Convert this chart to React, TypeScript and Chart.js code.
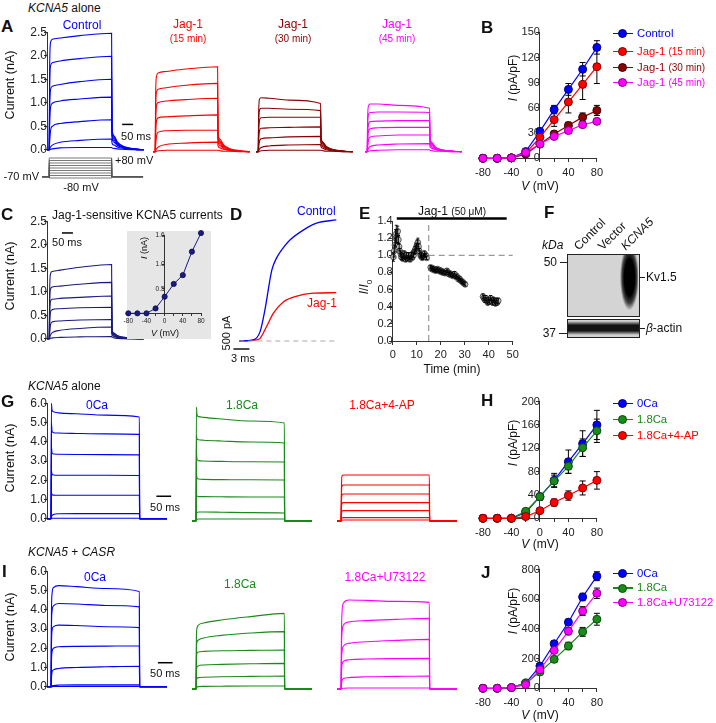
import React, { useEffect, useRef } from 'react';
import { Chart, registerables } from 'chart.js';
Chart.register(...registerables);

const FONT = '"Liberation Sans", Arial, Helvetica, sans-serif';
const BLUE = '#0000ff', RED = '#ff0000', DRED = '#8c0000', MAG = '#ff00ff', NAVY = '#1a1a80', GREEN = '#1a8a1a';

// ---------- Panel A / C current traces (time ms, current nA) ----------
const A_T = [0, 10, 12, 16, 24, 60, 150, 294, 296, 305, 320, 350, 400, 440];
const A_CTRL = [
  [0, 0, 1.7, 2.28, 2.35, 2.38, 2.43, 2.48, 0.45, 0.3, 0.17, 0.07, 0.02, 0],
  [0, 0, 1.3, 1.78, 1.85, 1.89, 1.94, 1.99, 0.4, 0.27, 0.15, 0.06, 0.02, 0],
  [0, 0, 0.85, 1.28, 1.35, 1.39, 1.45, 1.5, 0.35, 0.24, 0.13, 0.05, 0.01, 0],
  [0, 0, 0.5, 0.9, 0.99, 1.04, 1.08, 1.12, 0.3, 0.2, 0.11, 0.05, 0.01, 0],
  [0, 0, 0.15, 0.4, 0.5, 0.56, 0.6, 0.64, 0.24, 0.16, 0.09, 0.04, 0.01, 0],
  [0, 0, 0.02, 0.06, 0.1, 0.16, 0.2, 0.23, 0.14, 0.1, 0.06, 0.03, 0.01, 0],
  [0, 0, 0, 0.01, 0.02, 0.04, 0.05, 0.05, 0.04, 0.03, 0.02, 0.01, 0, 0],
];
const A_J15 = [
  [0, 0, 1.2, 1.58, 1.65, 1.68, 1.73, 1.78, 0.38, 0.26, 0.15, 0.06, 0.02, 0],
  [0, 0, 0.9, 1.25, 1.31, 1.34, 1.39, 1.43, 0.34, 0.23, 0.13, 0.05, 0.01, 0],
  [0, 0, 0.6, 0.97, 1.03, 1.06, 1.09, 1.12, 0.3, 0.2, 0.11, 0.05, 0.01, 0],
  [0, 0, 0.35, 0.65, 0.71, 0.73, 0.75, 0.77, 0.25, 0.17, 0.09, 0.04, 0.01, 0],
  [0, 0, 0.12, 0.33, 0.41, 0.44, 0.45, 0.45, 0.2, 0.13, 0.07, 0.03, 0.01, 0],
  [0, 0, 0.02, 0.06, 0.1, 0.15, 0.18, 0.2, 0.12, 0.08, 0.05, 0.02, 0.01, 0],
  [0, 0, 0, 0.01, 0.02, 0.03, 0.03, 0.03, 0.03, 0.02, 0.01, 0.01, 0, 0],
];
const A_J30 = [
  [0, 0, 0.8, 1.1, 1.13, 1.12, 1.08, 1.01, 0.3, 0.2, 0.11, 0.05, 0.01, 0],
  [0, 0, 0.6, 0.87, 0.91, 0.91, 0.89, 0.86, 0.27, 0.18, 0.1, 0.04, 0.01, 0],
  [0, 0, 0.4, 0.66, 0.71, 0.72, 0.72, 0.72, 0.24, 0.16, 0.09, 0.04, 0.01, 0],
  [0, 0, 0.22, 0.44, 0.49, 0.5, 0.51, 0.52, 0.2, 0.13, 0.07, 0.03, 0.01, 0],
  [0, 0, 0.08, 0.22, 0.27, 0.29, 0.31, 0.32, 0.15, 0.1, 0.06, 0.02, 0.01, 0],
  [0, 0, 0.02, 0.06, 0.09, 0.12, 0.14, 0.15, 0.1, 0.07, 0.04, 0.02, 0, 0],
  [0, 0, 0, 0.01, 0.02, 0.03, 0.03, 0.03, 0.03, 0.02, 0.01, 0.01, 0, 0],
];
const A_J45 = [
  [0, 0, 0.7, 0.96, 1.0, 1.0, 0.97, 0.91, 0.28, 0.19, 0.1, 0.04, 0.01, 0],
  [0, 0, 0.55, 0.78, 0.82, 0.83, 0.83, 0.82, 0.25, 0.17, 0.09, 0.04, 0.01, 0],
  [0, 0, 0.35, 0.58, 0.63, 0.64, 0.65, 0.65, 0.22, 0.15, 0.08, 0.03, 0.01, 0],
  [0, 0, 0.2, 0.43, 0.48, 0.5, 0.51, 0.51, 0.19, 0.13, 0.07, 0.03, 0.01, 0],
  [0, 0, 0.08, 0.25, 0.31, 0.33, 0.35, 0.35, 0.15, 0.1, 0.05, 0.02, 0.01, 0],
  [0, 0, 0.02, 0.07, 0.11, 0.14, 0.16, 0.17, 0.1, 0.07, 0.04, 0.02, 0, 0],
  [0, 0, 0, 0.01, 0.02, 0.03, 0.04, 0.04, 0.03, 0.02, 0.01, 0.01, 0, 0],
];
const C_SENS = [
  [0, 0, 1.0, 1.38, 1.43, 1.46, 1.52, 1.58, 0.2, 0.12, 0.07, 0.03, 0.01, 0],
  [0, 0, 0.75, 1.06, 1.1, 1.12, 1.16, 1.2, 0.17, 0.1, 0.06, 0.03, 0.01, 0],
  [0, 0, 0.5, 0.8, 0.84, 0.86, 0.88, 0.91, 0.14, 0.09, 0.05, 0.02, 0.01, 0],
  [0, 0, 0.3, 0.57, 0.62, 0.64, 0.66, 0.67, 0.12, 0.08, 0.04, 0.02, 0, 0],
  [0, 0, 0.1, 0.3, 0.36, 0.38, 0.4, 0.41, 0.1, 0.06, 0.03, 0.01, 0, 0],
  [0, 0, 0.02, 0.08, 0.13, 0.18, 0.22, 0.25, 0.07, 0.05, 0.03, 0.01, 0, 0],
  [0, 0, 0, 0.01, 0.02, 0.03, 0.04, 0.05, 0.03, 0.02, 0.01, 0, 0, 0],
];
// voltage protocol (mV)
const PROTO_STEPS = [-80, -60, -40, -20, 0, 20, 40, 60, 80];
const PROTO_HOLD = -70;
const PROTO_T = [-22, 10, 294, 437];

// ---------- Panel C inset (I-V of Jag-1-sensitive current) ----------
const IV_V = [-80, -60, -40, -20, 0, 20, 40, 60, 80];
const INSET_I = [0, 0, 0, 0.1, 0.34, 0.6, 0.78, 1.26, 1.64];

// ---------- Panel B ----------
const B_CTRL = [0, 0, 0.5, 8, 32, 58, 82, 106, 132];
const B_CTRL_E = [0, 0, 0, 2, 4, 5, 7, 8, 8];
const B_J15 = [0, 0, 0.5, 6, 25, 46, 67, 88, 109];
const B_J15_E = [0, 0, 0, 2, 4, 8, 13, 18, 20];
const B_J30 = [0, 0, 0.5, 5, 17, 29, 39, 49, 57];
const B_J30_E = [0, 0, 0, 1, 2, 3, 4, 5, 6];
const B_J45 = [0, 0, 0.5, 7, 17, 26, 33, 40, 44];
const B_J45_E = [0, 0, 0, 1, 2, 2, 3, 3, 3];

// ---------- Panel D (time ms, current pA) ----------
const D_CTRL_T = [0, 2.6, 3.9, 4.8, 6.1, 7.0, 8.2, 9.5, 12.0, 14.5, 18.2];
const D_CTRL_I = [0, 40, 360, 1190, 2730, 3200, 3580, 3890, 4270, 4540, 4660];
const D_JAG_T = [0, 3.3, 3.9, 5.1, 6.4, 8.3, 10.8, 13.9, 18.2];
const D_JAG_I = [0, 40, 100, 550, 1070, 1510, 1730, 1840, 1860];

// ---------- Panel E: [time (min), I/I0, error] ----------
const E_DATA: [number, number, number][] = [
  [0.3, 0.98, 0.05], [0.6, 1.05, 0.07], [0.9, 1.12, 0.08], [1.2, 1.2, 0.1], [1.5, 1.25, 0.1], [1.8, 1.22, 0.08],
  [2.1, 1.28, 0.06], [2.4, 1.18, 0.05], [2.7, 1.1, 0.04], [3.0, 1.05, 0.03], [3.3, 1.02, 0.03], [3.6, 0.98, 0.03],
  [3.9, 1.0, 0.03], [4.2, 0.96, 0.02], [4.5, 0.99, 0.03], [4.8, 1.02, 0.03], [5.1, 0.97, 0.02], [5.4, 0.95, 0.02],
  [5.7, 1.0, 0.03], [6.0, 0.98, 0.02], [6.3, 0.96, 0.02], [6.6, 1.0, 0.03], [6.9, 0.97, 0.02], [7.2, 0.95, 0.02],
  [7.5, 0.98, 0.02], [7.8, 1.0, 0.03], [8.1, 0.97, 0.02], [8.4, 1.02, 0.03], [8.7, 1.0, 0.03], [9.0, 1.04, 0.03],
  [9.3, 1.06, 0.04], [9.6, 1.08, 0.04], [9.9, 1.1, 0.04], [10.2, 1.13, 0.05], [10.5, 1.15, 0.05], [10.8, 1.1, 0.04],
  [11.1, 1.05, 0.03], [11.4, 1.02, 0.03], [11.7, 0.99, 0.02], [12.0, 1.0, 0.03], [12.3, 0.97, 0.02], [12.6, 0.98, 0.02],
  [12.9, 1.0, 0.02], [13.2, 1.02, 0.03], [13.5, 0.99, 0.02], [13.8, 1.0, 0.02], [14.1, 0.97, 0.02],
  [15.8, 0.86, 0.02], [16.2, 0.84, 0.02], [16.6, 0.85, 0.02], [17.0, 0.83, 0.02], [17.4, 0.84, 0.02], [17.8, 0.82, 0.02],
  [18.2, 0.83, 0.02], [18.6, 0.84, 0.02], [19.0, 0.82, 0.02], [19.4, 0.83, 0.02], [19.8, 0.81, 0.02], [20.2, 0.82, 0.02],
  [20.6, 0.8, 0.02], [21.0, 0.81, 0.02], [21.4, 0.8, 0.02], [21.8, 0.79, 0.02], [22.2, 0.8, 0.02], [22.6, 0.82, 0.02],
  [23.0, 0.8, 0.02], [23.4, 0.78, 0.02], [23.8, 0.79, 0.02], [24.2, 0.77, 0.02], [24.6, 0.78, 0.02], [25.0, 0.76, 0.02],
  [25.4, 0.77, 0.02], [25.8, 0.78, 0.03], [26.2, 0.75, 0.02], [26.6, 0.76, 0.02], [27.0, 0.74, 0.02], [27.4, 0.72, 0.02],
  [27.8, 0.73, 0.02], [28.2, 0.71, 0.02], [28.6, 0.7, 0.02], [29.0, 0.69, 0.02], [29.4, 0.68, 0.02], [29.8, 0.67, 0.02],
  [30.2, 0.66, 0.02],
  [37.6, 0.52, 0.03], [38.0, 0.5, 0.03], [38.4, 0.48, 0.03], [38.8, 0.5, 0.03], [39.2, 0.47, 0.03], [39.6, 0.45, 0.03],
  [40.0, 0.48, 0.03], [40.4, 0.46, 0.03], [40.8, 0.5, 0.03], [41.2, 0.47, 0.03], [41.6, 0.45, 0.03], [42.0, 0.48, 0.03],
  [42.4, 0.46, 0.03], [42.8, 0.44, 0.03], [43.2, 0.47, 0.03], [43.6, 0.45, 0.03], [44.0, 0.47, 0.03],
];
const E_JAG_ON = [1.7, 47.5];
const E_MARK_T = 15;

// ---------- Panels G and I traces (time ms, current nA) ----------
const G_T = [0, 14, 15, 17, 22, 40, 100, 200, 314, 315, 408];
const G_0CA = [
  [0, 0, 6.0, 5.65, 5.55, 5.5, 5.45, 5.38, 5.28, 0, 0],
  [0, 0, 5.0, 4.55, 4.47, 4.45, 4.43, 4.41, 4.38, 0, 0],
  [0, 0, 3.75, 3.42, 3.36, 3.35, 3.34, 3.33, 3.32, 0, 0],
  [0, 0, 2.5, 2.32, 2.27, 2.26, 2.26, 2.26, 2.25, 0, 0],
  [0, 0, 1.35, 1.26, 1.23, 1.22, 1.22, 1.22, 1.22, 0, 0],
  [0, 0, 0.1, 0.16, 0.22, 0.26, 0.27, 0.27, 0.27, 0, 0],
  [0, 0, 0.02, 0.03, 0.03, 0.03, 0.03, 0.03, 0.03, 0, 0],
];
const G_18CA = [
  [0, 0, 5.7, 5.3, 5.22, 5.18, 5.1, 5.0, 4.9, 0, 0],
  [0, 0, 4.3, 4.1, 4.06, 4.04, 4.0, 3.95, 3.9, 0, 0],
  [0, 0, 3.45, 3.08, 3.02, 3.0, 2.98, 2.96, 2.95, 0, 0],
  [0, 0, 2.38, 2.15, 2.1, 2.08, 2.07, 2.06, 2.05, 0, 0],
  [0, 0, 1.32, 1.25, 1.22, 1.22, 1.21, 1.2, 1.2, 0, 0],
  [0, 0, 0.35, 0.42, 0.45, 0.45, 0.44, 0.42, 0.4, 0, 0],
  [0, 0, 0.05, 0.08, 0.1, 0.1, 0.1, 0.1, 0.1, 0, 0],
];
const G_4AP = [
  [0, 0, 1.6, 2.25, 2.3, 2.3, 2.3, 2.3, 2.3, 0, 0],
  [0, 0, 1.2, 1.75, 1.8, 1.8, 1.8, 1.8, 1.8, 0, 0],
  [0, 0, 0.9, 1.3, 1.35, 1.35, 1.35, 1.35, 1.35, 0, 0],
  [0, 0, 0.6, 0.88, 0.92, 0.92, 0.92, 0.92, 0.92, 0, 0],
  [0, 0, 0.3, 0.49, 0.52, 0.52, 0.52, 0.52, 0.52, 0, 0],
  [0, 0, 0.08, 0.15, 0.17, 0.17, 0.17, 0.17, 0.17, 0, 0],
  [0, 0, 0.02, 0.04, 0.05, 0.05, 0.05, 0.05, 0.05, 0, 0],
];
const I_0CA = [
  [0, 0, 3.5, 4.8, 5.15, 5.25, 5.2, 5.1, 4.95, 0, 0],
  [0, 0, 2.8, 3.9, 4.2, 4.32, 4.3, 4.22, 4.15, 0, 0],
  [0, 0, 2.0, 2.9, 3.12, 3.2, 3.18, 3.12, 3.07, 0, 0],
  [0, 0, 1.2, 1.8, 2.0, 2.08, 2.1, 2.11, 2.12, 0, 0],
  [0, 0, 0.4, 0.75, 0.88, 0.95, 1.0, 1.04, 1.07, 0, 0],
  [0, 0, 0.02, 0.05, 0.07, 0.09, 0.1, 0.1, 0.1, 0, 0],
  [0, 0, 0, 0.01, 0.02, 0.02, 0.02, 0.02, 0.02, 0, 0],
];
const I_18CA = [
  [0, 0, 2.6, 3.05, 3.2, 3.3, 3.45, 3.62, 3.78, 0, 0],
  [0, 0, 2.0, 2.35, 2.45, 2.55, 2.68, 2.8, 2.87, 0, 0],
  [0, 0, 1.5, 1.78, 1.85, 1.88, 1.91, 1.93, 1.95, 0, 0],
  [0, 0, 0.9, 1.1, 1.16, 1.2, 1.23, 1.26, 1.28, 0, 0],
  [0, 0, 0.4, 0.52, 0.57, 0.59, 0.61, 0.63, 0.65, 0, 0],
  [0, 0, 0.05, 0.1, 0.12, 0.13, 0.14, 0.15, 0.15, 0, 0],
];
const I_U73 = [
  [0, 0, 2.5, 3.8, 4.3, 4.45, 4.43, 4.38, 4.33, 0, 0],
  [0, 0, 1.8, 2.8, 3.2, 3.35, 3.42, 3.48, 3.53, 0, 0],
  [0, 0, 1.2, 1.85, 2.15, 2.28, 2.36, 2.43, 2.48, 0, 0],
  [0, 0, 0.7, 1.2, 1.38, 1.46, 1.5, 1.52, 1.53, 0, 0],
  [0, 0, 0.2, 0.42, 0.52, 0.57, 0.61, 0.63, 0.65, 0, 0],
  [0, 0, 0.01, 0.03, 0.04, 0.05, 0.05, 0.05, 0.05, 0, 0],
];

// ---------- Panels H and J (pA/pF) ----------
const H_0CA = [0, 0, 0, 10, 37, 65, 97, 128, 160];
const H_0CA_E = [0, 0, 0, 2, 6, 12, 20, 22, 25];
const H_18CA = [0, 0, 0, 12, 37, 64, 89, 121, 150];
const H_18CA_E = [0, 0, 0, 3, 5, 10, 12, 15, 20];
const H_4AP = [0, 0, 0, 3, 13, 27, 39, 52, 65];
const H_4AP_E = [0, 0, 0, 1, 4, 6, 8, 12, 15];
const J_0CA = [0, 0, 5, 35, 150, 300, 445, 615, 755];
const J_0CA_E = [0, 0, 3, 8, 15, 20, 20, 25, 30];
const J_18CA = [0, 0, 5, 35, 110, 195, 285, 380, 465];
const J_18CA_E = [0, 0, 3, 8, 12, 20, 25, 30, 40];
const J_U73 = [0, 0, 5, 25, 125, 255, 385, 520, 640];
const J_U73_E = [0, 0, 3, 8, 15, 20, 25, 30, 35];

// scale-bar values
const BAR_MS = 50;
const D_BAR = { pA: 500, ms: 3 };

// ================= helpers =================
const errPlugin = {
  id: 'errbars',
  beforeDatasetsDraw(chart: any, _a: any, opts: any) { if (!opts.after) drawErr(chart, opts); },
  afterDatasetsDraw(chart: any, _a: any, opts: any) { if (opts.after) drawErr(chart, opts); },
};
function drawErr(chart: any, opts: any) {
  const ctx = chart.ctx, xs = chart.scales.x, ys = chart.scales.y;
  const cap = opts.cap ?? 3;
  ctx.save();
  ctx.strokeStyle = opts.color || '#000';
  ctx.lineWidth = opts.width || 1;
  chart.data.datasets.forEach((ds: any) => {
    if (!ds.errors) return;
    ds.data.forEach((p: any, i: number) => {
      const e = ds.errors[i];
      if (!e) return;
      const x = xs.getPixelForValue(p.x);
      const y1 = ys.getPixelForValue(p.y + e), y2 = ys.getPixelForValue(p.y - e);
      ctx.beginPath();
      ctx.moveTo(x, y1); ctx.lineTo(x, y2);
      ctx.moveTo(x - cap, y1); ctx.lineTo(x + cap, y1);
      ctx.moveTo(x - cap, y2); ctx.lineTo(x + cap, y2);
      ctx.stroke();
    });
  });
  ctx.restore();
}

function baseOptions(x: any, y: any, plugins: any = {}) {
  return {
    responsive: false, animation: false, events: [],
    plugins: { legend: { display: false }, tooltip: { enabled: false }, ...plugins },
    scales: { x, y },
  };
}
function hidden(axis: string, min: number, max: number) {
  return { type: 'linear', axis, min, max, display: false };
}
function shown(axis: string, min: number, max: number, step: number, fmt: (v: number) => string, at: number, size = 11, tick = 3, pad = 3) {
  return {
    type: 'linear', axis, min, max,
    position: axis === 'y' ? { x: at } : { y: at },
    border: { display: true, color: '#333', width: 1 },
    grid: { display: true, drawOnChartArea: false, drawTicks: true, tickLength: tick, color: '#333' },
    ticks: { stepSize: step, autoSkip: false, maxRotation: 0, callback: fmt, font: { family: FONT, size }, color: '#222', padding: pad },
  };
}
function traceSets(T: number[], rows: number[][], color: string, w = 1.1) {
  return rows.map((r) => ({
    data: T.map((t, i) => ({ x: t, y: r[i] })),
    borderColor: color, borderWidth: w, pointRadius: 0, fill: false,
    cubicInterpolationMode: 'monotone', clip: false,
  }));
}
function line(pts: number[][], color: string, w: number, dash: number[] = []) {
  return { data: pts.map((p) => ({ x: p[0], y: p[1] })), borderColor: color, borderWidth: w, borderDash: dash, pointRadius: 0, fill: false, clip: false };
}
const f1 = (v: number) => Number(v).toFixed(1);

type Box = { l: number; t: number; r: number; b: number };
function Plot({ box, pad, config }: { box: Box; pad: number[]; config: () => any }) {
  const ref = useRef<HTMLCanvasElement>(null);
  const left = Math.floor(box.l - pad[0]);
  const top = Math.floor(box.t - pad[1]);
  const width = Math.ceil(box.r + pad[2]) - left;
  const height = Math.ceil(box.b + pad[3]) - top;
  useEffect(() => {
    const cfg = config();
    cfg.options.layout = { padding: { left: box.l - left, top: box.t - top, right: left + width - box.r, bottom: top + height - box.b } };
    const chart = new Chart(ref.current as HTMLCanvasElement, cfg);
    return () => chart.destroy();
  }, []);
  return <canvas ref={ref} width={width} height={height} style={{ position: 'absolute', left, top, width, height }} />;
}

function traceConfig(T: number[], groups: { rows: number[][]; color: string }[], xMax: number, yMax: number, yStep: number | null, extras: any[] = []) {
  const datasets = [...groups.flatMap((g) => traceSets(T, g.rows, g.color)), ...extras];
  return {
    type: 'line',
    data: { datasets },
    options: baseOptions(hidden('x', 0, xMax), yStep ? shown('y', 0, yMax, yStep, f1, 0, 12, 3, 3) : hidden('y', 0, yMax)),
  };
}

function ivConfig(series: { vals: number[]; err: number[]; color: string; edge: string }[], yMax: number, step: number) {
  return {
    type: 'line',
    data: {
      datasets: series.map((s, i) => ({
        data: IV_V.map((v, j) => ({ x: v, y: s.vals[j] })),
        errors: s.err,
        borderColor: s.color, borderWidth: 1.2,
        pointRadius: 4, pointBackgroundColor: s.color, pointBorderColor: s.edge, pointBorderWidth: 1,
        clip: false, order: -i,
      })),
    },
    options: baseOptions(
      shown('x', -80, 80, 20, (v) => (v % 40 === 0 ? String(v) : ''), 0, 11, 3, 5),
      shown('y', 0, yMax, step, (v) => String(v), 0, 11, 3, 3),
      { errbars: { cap: 3 } },
    ),
    plugins: [errPlugin],
  };
}

function Tx({ x, y, c = '#111', s = 12, a = 'l', b = false, i = false, r = 0, children }: any) {
  const dx = a === 'c' ? '-50%' : a === 'r' ? '-100%' : '0';
  return (
    <div style={{ position: 'absolute', left: x, top: y, transform: `translate(${dx},-50%)` + (r ? ` rotate(${r}deg)` : ''), color: c, fontSize: s, fontWeight: b ? 700 : 400, fontStyle: i ? 'italic' : 'normal', whiteSpace: 'nowrap', lineHeight: 1 }}>
      {children}
    </div>
  );
}
function Diag({ x, y, i = false, children }: any) {
  return (
    <div style={{ position: 'absolute', left: x, top: y, transformOrigin: 'left center', transform: 'translate(0,-50%) rotate(-45deg)', fontSize: 12, fontStyle: i ? 'italic' : 'normal', whiteSpace: 'nowrap', lineHeight: 1 }}>
      {children}
    </div>
  );
}
function LegendRow({ y, color, edge, children }: any) {
  return (
    <>
      <div style={{ position: 'absolute', left: 613, top: y - 0.6, width: 20, height: 1.2, background: color }} />
      <div style={{ position: 'absolute', left: 617.5, top: y - 4.5, width: 9, height: 9, borderRadius: '50%', background: color, border: `1px solid ${edge}`, boxSizing: 'border-box' }} />
      <Tx x={637} y={y} c={color} s={11.3}>{children}</Tx>
    </>
  );
}
function Hl({ x, y, w }: any) {
  return <div style={{ position: 'absolute', left: x, top: y - 0.5, width: w, height: 1, background: '#222' }} />;
}

// ================= layout constants =================
const A_W = 103, A_TMAX = 468.7; // A / C trace area width (px) and time span (ms)
const G_W = 128, G_TMAX = 435.2;
const A_Y = { t: 32.3, b: 151.7 };
const G_Y = { t: 401, b: 521 };
const I_Y = { t: 569, b: 689 };

export default function App() {
  return (
    <div style={{ position: 'absolute', left: 0, top: 0, width: 716, height: 723, background: '#fff', fontFamily: FONT, color: '#111', overflow: 'hidden' }}>
      {/* ---------------- A ---------------- */}
      <Plot box={{ l: 47, r: 47 + A_W, ...A_Y }} pad={[32, 10, 6, 8]} config={() =>
        traceConfig(A_T, [{ rows: A_CTRL, color: BLUE }], A_TMAX, 2.5, 0.5, [line([[342, 0.54], [342 + BAR_MS, 0.54]], '#000', 1.5)])} />
      <Plot box={{ l: 153, r: 153 + A_W, ...A_Y }} pad={[4, 10, 4, 8]} config={() => traceConfig(A_T, [{ rows: A_J15, color: RED }], A_TMAX, 2.5, null)} />
      <Plot box={{ l: 256, r: 256 + A_W, ...A_Y }} pad={[4, 10, 4, 8]} config={() => traceConfig(A_T, [{ rows: A_J30, color: DRED }], A_TMAX, 2.5, null)} />
      <Plot box={{ l: 365, r: 365 + A_W, ...A_Y }} pad={[4, 10, 4, 8]} config={() => traceConfig(A_T, [{ rows: A_J45, color: MAG }], A_TMAX, 2.5, null)} />
      <Plot box={{ l: 47, r: 47 + A_W, t: 158, b: 178 }} pad={[8, 4, 4, 4]} config={() => ({
        type: 'line',
        data: { datasets: PROTO_STEPS.map((v) => line([[PROTO_T[0], PROTO_HOLD], [PROTO_T[1], PROTO_HOLD], [PROTO_T[1], v], [PROTO_T[2], v], [PROTO_T[2], PROTO_HOLD], [PROTO_T[3], PROTO_HOLD]], '#555', 0.8)) },
        options: baseOptions(hidden('x', 0, A_TMAX), hidden('y', -80, 80)),
      })} />
      <Tx x={28} y={8} s={12}><i>KCNA5</i> alone</Tx>
      <Tx x={1} y={26} s={17} b>A</Tx>
      <Tx x={10} y={85} s={12.5} a="c" r={-90}>Current (nA)</Tx>
      <Tx x={82} y={25} c={BLUE} a="c">Control</Tx>
      <Tx x={188} y={24} c={RED} a="c">Jag-1</Tx>
      <Tx x={188} y={39} c={RED} a="c" s={10}>(15 min)</Tx>
      <Tx x={293} y={24} c={DRED} a="c">Jag-1</Tx>
      <Tx x={293} y={39} c={DRED} a="c" s={10}>(30 min)</Tx>
      <Tx x={397} y={24} c={MAG} a="c">Jag-1</Tx>
      <Tx x={397} y={39} c={MAG} a="c" s={10}>(45 min)</Tx>
      <Tx x={136} y={136} a="c" s={11}>50 ms</Tx>
      <Tx x={115} y={160} s={11}>+80 mV</Tx>
      <Tx x={39} y={176} s={11} a="r">-70 mV</Tx>
      <Tx x={81} y={187} s={11} a="c">-80 mV</Tx>

      {/* ---------------- B ---------------- */}
      <Plot box={{ l: 480, r: 600, t: 32.3, b: 158.3 }} pad={[10, 10, 8, 20]} config={() => ivConfig([
        { vals: B_CTRL, err: B_CTRL_E, color: BLUE, edge: '#00007a' },
        { vals: B_J15, err: B_J15_E, color: RED, edge: '#7a0000' },
        { vals: B_J30, err: B_J30_E, color: DRED, edge: '#3a0000' },
        { vals: B_J45, err: B_J45_E, color: MAG, edge: '#7a007a' },
      ], 150, 30)} />
      <Tx x={481} y={27} s={17} b>B</Tx>
      <Tx x={513} y={78} s={12} a="c" r={-90}><i>I</i> (pA/pF)</Tx>
      <Tx x={540} y={186} s={12} a="c"><i>V</i> (mV)</Tx>
      <LegendRow y={33.5} color={BLUE} edge="#00007a">Control</LegendRow>
      <LegendRow y={51.5} color={RED} edge="#7a0000">Jag-1 <span style={{ fontSize: 10 }}>(15 min)</span></LegendRow>
      <LegendRow y={67.5} color={DRED} edge="#3a0000">Jag-1 <span style={{ fontSize: 10 }}>(30 min)</span></LegendRow>
      <LegendRow y={82.5} color={MAG} edge="#7a007a">Jag-1 <span style={{ fontSize: 10 }}>(45 min)</span></LegendRow>

      {/* ---------------- C ---------------- */}
      <Plot box={{ l: 47, r: 47 + A_W, t: 221, b: 341 }} pad={[32, 10, 6, 8]} config={() =>
        traceConfig(A_T, [{ rows: C_SENS, color: NAVY }], A_TMAX, 2.5, 0.5, [line([[68, 2.25], [68 + BAR_MS, 2.25]], '#000', 1.5)])} />
      <div style={{ position: 'absolute', left: 127, top: 231, width: 84, height: 108, background: '#e6e6e6' }} />
      <Plot box={{ l: 128.3, r: 201, t: 235, b: 313.3 }} pad={[20, 6, 8, 12]} config={() => ({
        type: 'line',
        data: { datasets: [{ data: IV_V.map((v, i) => ({ x: v, y: INSET_I[i] })), borderColor: NAVY, borderWidth: 1, pointRadius: 2.6, pointBackgroundColor: NAVY, pointBorderColor: '#0c0c50', pointBorderWidth: 0.8, clip: false }] },
        options: baseOptions(
          shown('x', -80, 80, 20, (v) => (v % 40 === 0 ? String(v) : ''), 0, 6.5, 2, 2),
          shown('y', 0, 1.6, 0.5, (v) => (v === 0 ? '' : f1(v)), 0, 6.5, 2, 2),
        ),
      })} />
      <Tx x={1} y={214} s={17} b>C</Tx>
      <Tx x={52} y={215} s={12}>Jag-1-sensitive KCNA5 currents</Tx>
      <Tx x={67} y={242} s={11} a="c">50 ms</Tx>
      <Tx x={10} y={276} s={12.5} a="c" r={-90}>Current (nA)</Tx>
      <Tx x={144} y={248} s={9} a="c" r={-90}><i>I</i> (nA)</Tx>
      <Tx x={165} y={333} s={9} a="c"><i>V</i> (mV)</Tx>

      {/* ---------------- D ---------------- */}
      <Plot box={{ l: 239.3, r: 337, t: 215, b: 341 }} pad={[10, 8, 4, 14]} config={() => ({
        type: 'line',
        data: {
          datasets: [
            line([[0, 0], [18.3, 0]], '#aaaaaa', 1.2, [5, 4]),
            { data: D_CTRL_T.map((t, i) => ({ x: t, y: D_CTRL_I[i] })), borderColor: BLUE, borderWidth: 1.3, pointRadius: 0, cubicInterpolationMode: 'monotone', clip: false },
            { data: D_JAG_T.map((t, i) => ({ x: t, y: D_JAG_I[i] })), borderColor: RED, borderWidth: 1.3, pointRadius: 0, cubicInterpolationMode: 'monotone', clip: false },
            line([[-1.1, -308 + D_BAR.pA], [-1.1, -308], [-1.1 + D_BAR.ms, -308]], '#000', 1.4),
          ],
        },
        options: baseOptions(hidden('x', 0, 18.33), hidden('y', 0, 4851)),
      })} />
      <Tx x={230} y={214} s={17} b>D</Tx>
      <Tx x={297} y={211} c={BLUE} s={12}>Control</Tx>
      <Tx x={307} y={303} c={RED} s={12}>Jag-1</Tx>
      <Tx x={226} y={333} s={11} a="c" r={-90}>500 pA</Tx>
      <Tx x={243} y={358} s={11} a="c">3 ms</Tx>

      {/* ---------------- E ---------------- */}
      <Plot box={{ l: 392.7, r: 512.7, t: 221, b: 341 }} pad={[28, 10, 10, 18]} config={() => ({
        type: 'line',
        data: {
          datasets: [
            { data: E_DATA.map((d) => ({ x: d[0], y: d[1] })), errors: E_DATA.map((d) => d[2]), showLine: false, pointRadius: 2.8, pointBackgroundColor: '#c4c4c4', pointBorderColor: '#222', pointBorderWidth: 0.7, clip: false },
            line([[E_MARK_T, 0], [E_MARK_T, 1.4]], '#999', 1.2, [6, 4]),
            line([[E_MARK_T, 1], [50, 1]], '#999', 1.2, [6, 4]),
            line([[E_JAG_ON[0], 1.43], [E_JAG_ON[1], 1.43]], '#000', 2.5),
          ],
        },
        options: baseOptions(
          shown('x', 0, 50, 10, (v) => String(v), 0, 11, 3, 4),
          shown('y', 0, 1.4, 0.2, f1, 0, 11, 3, 3),
          { errbars: { cap: 1.5, after: true, width: 0.9 } },
        ),
        plugins: [errPlugin],
      })} />
      <Tx x={359} y={213} s={17} b>E</Tx>
      <Tx x={418} y={211} s={12}>Jag-1 <span style={{ fontSize: 10 }}>(50 μM)</span></Tx>
      <Tx x={366} y={287} s={12} a="c" r={-90}><i>I</i>/<i>I</i><sub style={{ fontSize: 8 }}>0</sub></Tx>
      <Tx x={452} y={369} s={12} a="c">Time (min)</Tx>

      {/* ---------------- F ---------------- */}
      <Tx x={544} y={212} s={17} b>F</Tx>
      <Tx x={542} y={245} s={12} i>kDa</Tx>
      <Diag x={576} y={248}>Control</Diag>
      <Diag x={600} y={248}>Vector</Diag>
      <Diag x={623} y={248} i>KCNA5</Diag>
      <div style={{ position: 'absolute', left: 567, top: 254, width: 71, height: 61, border: '1.5px solid #222', background: '#d4d4d4', overflow: 'hidden' }}>
        <div style={{ position: 'absolute', left: 51, top: -4, width: 19, height: 66, background: 'radial-gradient(ellipse 50% 50% at 55% 40%, #000 0%, #000 55%, rgba(0,0,0,0.7) 78%, rgba(0,0,0,0) 100%)' }} />
      </div>
      <div style={{ position: 'absolute', left: 567, top: 319, width: 71, height: 17, border: '1.5px solid #222', background: '#d2d2d2', overflow: 'hidden' }}>
        <div style={{ position: 'absolute', left: 0, top: 1, width: 71, height: 14, background: 'linear-gradient(rgba(0,0,0,0), #111 30%, #151515 70%, rgba(0,0,0,0))' }} />
      </div>
      <Tx x={557} y={262} s={12} a="r">50</Tx>
      <Hl x={560} y={262} w={7} />
      <Tx x={556} y={333} s={12} a="r">37</Tx>
      <Hl x={559} y={333} w={8} />
      <Hl x={639} y={277} w={6} />
      <Tx x={646} y={277} s={12}>Kv1.5</Tx>
      <Hl x={639} y={328} w={6} />
      <Tx x={646} y={328} s={12}><i>β</i>-actin</Tx>

      {/* ---------------- G ---------------- */}
      <Plot box={{ l: 47, r: 47 + G_W, ...G_Y }} pad={[32, 8, 4, 8]} config={() =>
        traceConfig(G_T, [{ rows: G_0CA, color: BLUE }], G_TMAX, 6, 1, [line([[372, 1.17], [372 + BAR_MS, 1.17]], '#000', 1.5)])} />
      <Plot box={{ l: 192, r: 192 + G_W, ...G_Y }} pad={[4, 8, 4, 8]} config={() => traceConfig(G_T, [{ rows: G_18CA, color: GREEN }], G_TMAX, 6, null)} />
      <Plot box={{ l: 337, r: 337 + G_W, ...G_Y }} pad={[4, 8, 4, 8]} config={() => traceConfig(G_T, [{ rows: G_4AP, color: RED }], G_TMAX, 6, null)} />
      <Tx x={28} y={386} s={12}><i>KCNA5</i> alone</Tx>
      <Tx x={1} y={401} s={17} b>G</Tx>
      <Tx x={10} y={458} s={12.5} a="c" r={-90}>Current (nA)</Tx>
      <Tx x={97} y={405} c={BLUE} a="c">0Ca</Tx>
      <Tx x={242} y={405} c={GREEN} a="c">1.8Ca</Tx>
      <Tx x={382} y={405} c={RED} a="c">1.8Ca+4-AP</Tx>
      <Tx x={165} y={507} s={11} a="c">50 ms</Tx>

      {/* ---------------- H ---------------- */}
      <Plot box={{ l: 480, r: 600, t: 401.6, b: 518.3 }} pad={[10, 10, 8, 20]} config={() => ivConfig([
        { vals: H_0CA, err: H_0CA_E, color: BLUE, edge: '#00007a' },
        { vals: H_18CA, err: H_18CA_E, color: GREEN, edge: '#0a4a0a' },
        { vals: H_4AP, err: H_4AP_E, color: RED, edge: '#7a0000' },
      ], 200, 40)} />
      <Tx x={481} y={400} s={17} b>H</Tx>
      <Tx x={513} y={443} s={12} a="c" r={-90}><i>I</i> (pA/pF)</Tx>
      <Tx x={540} y={544} s={12} a="c"><i>V</i> (mV)</Tx>
      <LegendRow y={403.5} color={BLUE} edge="#00007a">0Ca</LegendRow>
      <LegendRow y={419.5} color={GREEN} edge="#0a4a0a">1.8Ca</LegendRow>
      <LegendRow y={435.5} color={RED} edge="#7a0000">1.8Ca+4-AP</LegendRow>

      {/* ---------------- I ---------------- */}
      <Plot box={{ l: 47, r: 47 + G_W, ...I_Y }} pad={[32, 8, 4, 8]} config={() =>
        traceConfig(G_T, [{ rows: I_0CA, color: BLUE }], G_TMAX, 6, 1, [line([[377, 1.25], [377 + BAR_MS, 1.25]], '#000', 1.5)])} />
      <Plot box={{ l: 192, r: 192 + G_W, ...I_Y }} pad={[4, 8, 4, 8]} config={() => traceConfig(G_T, [{ rows: I_18CA, color: GREEN }], G_TMAX, 6, null)} />
      <Plot box={{ l: 337, r: 337 + G_W, ...I_Y }} pad={[4, 8, 4, 8]} config={() => traceConfig(G_T, [{ rows: I_U73, color: MAG }], G_TMAX, 6, null)} />
      <Tx x={28} y={552} s={12}><i>KCNA5</i> + <i>CASR</i></Tx>
      <Tx x={2} y={571} s={17} b>I</Tx>
      <Tx x={10} y={627} s={12.5} a="c" r={-90}>Current (nA)</Tx>
      <Tx x={95} y={577} c={BLUE} a="c">0Ca</Tx>
      <Tx x={240} y={584} c={GREEN} a="c">1.8Ca</Tx>
      <Tx x={385} y={577} c={MAG} a="c">1.8Ca+U73122</Tx>
      <Tx x={165} y={673} s={11} a="c">50 ms</Tx>

      {/* ---------------- J ---------------- */}
      <Plot box={{ l: 480, r: 600, t: 569.5, b: 688.3 }} pad={[10, 10, 8, 20]} config={() => ivConfig([
        { vals: J_0CA, err: J_0CA_E, color: BLUE, edge: '#00007a' },
        { vals: J_18CA, err: J_18CA_E, color: GREEN, edge: '#0a4a0a' },
        { vals: J_U73, err: J_U73_E, color: MAG, edge: '#7a007a' },
      ], 800, 200)} />
      <Tx x={481} y={572} s={17} b>J</Tx>
      <Tx x={513} y={611} s={12} a="c" r={-90}><i>I</i> (pA/pF)</Tx>
      <Tx x={540} y={715} s={12} a="c"><i>V</i> (mV)</Tx>
      <LegendRow y={573.5} color={BLUE} edge="#00007a">0Ca</LegendRow>
      <LegendRow y={588} color={GREEN} edge="#0a4a0a">1.8Ca</LegendRow>
      <LegendRow y={602.5} color={MAG} edge="#7a007a">1.8Ca+U73122</LegendRow>
    </div>
  );
}
